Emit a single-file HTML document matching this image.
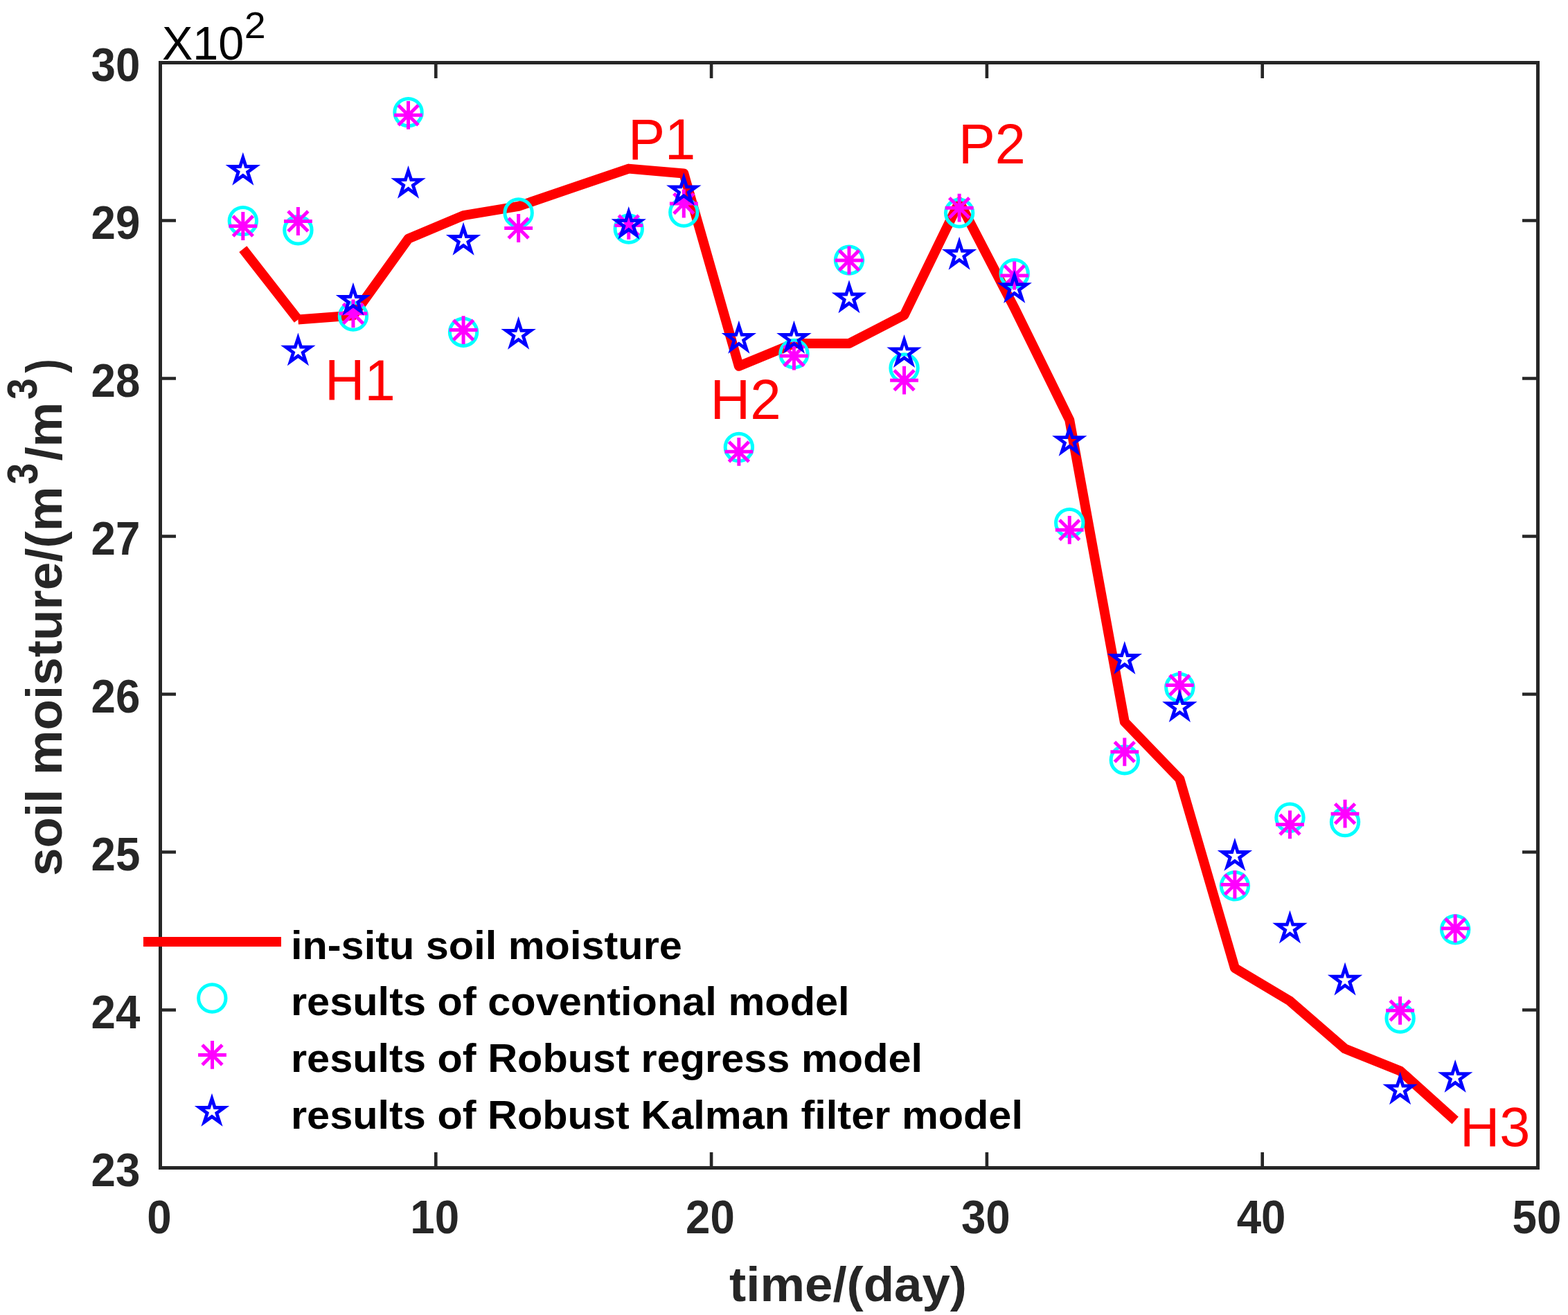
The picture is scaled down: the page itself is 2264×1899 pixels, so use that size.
<!DOCTYPE html>
<html><head><meta charset="utf-8"><title>soil moisture plot</title>
<style>html,body{margin:0;padding:0;background:#fff;}body{width:2264px;height:1899px;overflow:hidden;}svg{display:block;}</style>
</head><body>
<svg width="2264" height="1899" viewBox="0 0 2264 1899">
<rect width="2264" height="1899" fill="#fff"/>
<rect x="231.5" y="90.5" width="1989.0" height="1596.0" fill="none" stroke="#262626" stroke-width="5" stroke-linecap="square"/>
<path fill="none" stroke="#262626" stroke-width="4.6" d="M629.3 1686.5V1664M629.3 90.5V113M1027.1 1686.5V1664M1027.1 90.5V113M1424.9 1686.5V1664M1424.9 90.5V113M1822.7 1686.5V1664M1822.7 90.5V113M231.5 1458.5H254M2220.5 1458.5H2198M231.5 1230.5H254M2220.5 1230.5H2198M231.5 1002.5H254M2220.5 1002.5H2198M231.5 774.5H254M2220.5 774.5H2198M231.5 546.5H254M2220.5 546.5H2198M231.5 318.5H254M2220.5 318.5H2198"/>
<g fill="none" stroke="#f00" stroke-width="14" stroke-linejoin="round">
<line x1="350.84" y1="359.6" x2="430.4" y2="461.5"/>
<polyline points="430.4,461.5 509.96,455.6 589.52,344.8 669.08,311.2 748.64,297.8 828.2,270.6 907.76,243.6 987.32,250.5 1066.88,528.8 1146.44,496 1226,496 1305.56,455 1385.12,291.5 1464.68,444.7 1544.24,606.5 1623.8,1042.5 1703.36,1125 1782.92,1398 1862.48,1445.6 1942.04,1514.6 2021.6,1546.4 2101.16,1618"/>
</g>
<g fill="none" stroke="#0ff" stroke-width="5"><circle cx="350.84" cy="319.1" r="19.7"/><circle cx="430.4" cy="332.3" r="19.7"/><circle cx="509.96" cy="456.6" r="19.7"/><circle cx="589.52" cy="162.2" r="19.7"/><circle cx="669.08" cy="479.7" r="19.7"/><circle cx="748.64" cy="307.4" r="19.7"/><circle cx="907.76" cy="330.5" r="19.7"/><circle cx="987.32" cy="306.6" r="19.7"/><circle cx="1066.88" cy="646" r="19.7"/><circle cx="1146.44" cy="511" r="19.7"/><circle cx="1226" cy="375.6" r="19.7"/><circle cx="1305.56" cy="531.5" r="19.7"/><circle cx="1385.12" cy="307.6" r="19.7"/><circle cx="1464.68" cy="395" r="19.7"/><circle cx="1544.24" cy="755.1" r="19.7"/><circle cx="1623.8" cy="1097.4" r="19.7"/><circle cx="1703.36" cy="992.9" r="19.7"/><circle cx="1782.92" cy="1279.3" r="19.7"/><circle cx="1862.48" cy="1180.8" r="19.7"/><circle cx="1942.04" cy="1187.1" r="19.7"/><circle cx="2021.6" cy="1470.5" r="19.7"/><circle cx="2101.16" cy="1342.3" r="19.7"/></g>
<g fill="none" stroke="#f0f" stroke-width="5"><path d="M350.84 306.1V346.9M330.44 326.5H371.24M336.44 312.1L365.24 340.9M336.44 340.9L365.24 312.1"/><path d="M430.4 299.1V339.9M410 319.5H450.8M416 305.1L444.8 333.9M416 333.9L444.8 305.1"/><path d="M509.96 432.4V473.2M489.56 452.8H530.36M495.56 438.4L524.36 467.2M495.56 467.2L524.36 438.4"/><path d="M589.52 145.9V186.7M569.12 166.3H609.92M575.12 151.9L603.92 180.7M575.12 180.7L603.92 151.9"/><path d="M669.08 456.2V497M648.68 476.6H689.48M654.68 462.2L683.48 491M654.68 491L683.48 462.2"/><path d="M748.64 309.1V349.9M728.24 329.5H769.04M734.24 315.1L763.04 343.9M734.24 343.9L763.04 315.1"/><path d="M907.76 305V345.8M887.36 325.4H928.16M893.36 311L922.16 339.8M893.36 339.8L922.16 311"/><path d="M987.32 273.6V314.4M966.92 294H1007.72M972.92 279.6L1001.72 308.4M972.92 308.4L1001.72 279.6"/><path d="M1066.88 631.9V672.7M1046.48 652.3H1087.28M1052.48 637.9L1081.28 666.7M1052.48 666.7L1081.28 637.9"/><path d="M1146.44 493.6V534.4M1126.04 514H1166.84M1132.04 499.6L1160.84 528.4M1132.04 528.4L1160.84 499.6"/><path d="M1226 355.6V396.4M1205.6 376H1246.4M1211.6 361.6L1240.4 390.4M1211.6 390.4L1240.4 361.6"/><path d="M1305.56 528.8V569.6M1285.16 549.2H1325.96M1291.16 534.8L1319.96 563.6M1291.16 563.6L1319.96 534.8"/><path d="M1385.12 279.8V320.6M1364.72 300.2H1405.52M1370.72 285.8L1399.52 314.6M1370.72 314.6L1399.52 285.8"/><path d="M1464.68 377.6V418.4M1444.28 398H1485.08M1450.28 383.6L1479.08 412.4M1450.28 412.4L1479.08 383.6"/><path d="M1544.24 744.9V785.7M1523.84 765.3H1564.64M1529.84 750.9L1558.64 779.7M1529.84 779.7L1558.64 750.9"/><path d="M1623.8 1065.4V1106.2M1603.4 1085.8H1644.2M1609.4 1071.4L1638.2 1100.2M1609.4 1100.2L1638.2 1071.4"/><path d="M1703.36 969V1009.8M1682.96 989.4H1723.76M1688.96 975L1717.76 1003.8M1688.96 1003.8L1717.76 975"/><path d="M1782.92 1257V1297.8M1762.52 1277.4H1803.32M1768.52 1263L1797.32 1291.8M1768.52 1291.8L1797.32 1263"/><path d="M1862.48 1170.4V1211.2M1842.08 1190.8H1882.88M1848.08 1176.4L1876.88 1205.2M1848.08 1205.2L1876.88 1176.4"/><path d="M1942.04 1154.8V1195.6M1921.64 1175.2H1962.44M1927.64 1160.8L1956.44 1189.6M1927.64 1189.6L1956.44 1160.8"/><path d="M2021.6 1438.9V1479.7M2001.2 1459.3H2042M2007.2 1444.9L2036 1473.7M2007.2 1473.7L2036 1444.9"/><path d="M2101.16 1320.4V1361.2M2080.76 1340.8H2121.56M2086.76 1326.4L2115.56 1355.2M2086.76 1355.2L2115.56 1326.4"/></g>
<g fill="none" stroke="#00f" stroke-width="4.8" stroke-miterlimit="10"><polygon points="350.84,227.55 346.63,240.51 333.01,240.51 344.03,248.51 339.82,261.47 350.84,253.46 361.86,261.47 357.65,248.51 368.67,240.51 355.05,240.51"/><polygon points="430.4,488.15 426.19,501.11 412.57,501.11 423.59,509.11 419.38,522.07 430.4,514.06 441.42,522.07 437.21,509.11 448.23,501.11 434.61,501.11"/><polygon points="509.96,415.55 505.75,428.51 492.13,428.51 503.15,436.51 498.94,449.47 509.96,441.46 520.98,449.47 516.77,436.51 527.79,428.51 514.17,428.51"/><polygon points="589.52,246.65 585.31,259.61 571.69,259.61 582.71,267.61 578.5,280.57 589.52,272.56 600.54,280.57 596.33,267.61 607.35,259.61 593.73,259.61"/><polygon points="669.08,328.55 664.87,341.51 651.25,341.51 662.27,349.51 658.06,362.47 669.08,354.46 680.1,362.47 675.89,349.51 686.91,341.51 673.29,341.51"/><polygon points="748.64,464.45 744.43,477.41 730.81,477.41 741.83,485.41 737.62,498.37 748.64,490.36 759.66,498.37 755.45,485.41 766.47,477.41 752.85,477.41"/><polygon points="907.76,305.65 903.55,318.61 889.93,318.61 900.95,326.61 896.74,339.57 907.76,331.56 918.78,339.57 914.57,326.61 925.59,318.61 911.97,318.61"/><polygon points="987.32,256.85 983.11,269.81 969.49,269.81 980.51,277.81 976.3,290.77 987.32,282.76 998.34,290.77 994.13,277.81 1005.15,269.81 991.53,269.81"/><polygon points="1066.88,470.45 1062.67,483.41 1049.05,483.41 1060.07,491.41 1055.86,504.37 1066.88,496.36 1077.9,504.37 1073.69,491.41 1084.71,483.41 1071.09,483.41"/><polygon points="1146.44,470.45 1142.23,483.41 1128.61,483.41 1139.63,491.41 1135.42,504.37 1146.44,496.36 1157.46,504.37 1153.25,491.41 1164.27,483.41 1150.65,483.41"/><polygon points="1226,412.05 1221.79,425.01 1208.17,425.01 1219.19,433.01 1214.98,445.97 1226,437.96 1237.02,445.97 1232.81,433.01 1243.83,425.01 1230.21,425.01"/><polygon points="1305.56,490.85 1301.35,503.81 1287.73,503.81 1298.75,511.81 1294.54,524.77 1305.56,516.76 1316.58,524.77 1312.37,511.81 1323.39,503.81 1309.77,503.81"/><polygon points="1385.12,349.45 1380.91,362.41 1367.29,362.41 1378.31,370.41 1374.1,383.37 1385.12,375.36 1396.14,383.37 1391.93,370.41 1402.95,362.41 1389.33,362.41"/><polygon points="1464.68,397.65 1460.47,410.61 1446.85,410.61 1457.87,418.61 1453.66,431.57 1464.68,423.56 1475.7,431.57 1471.49,418.61 1482.51,410.61 1468.89,410.61"/><polygon points="1544.24,618.65 1540.03,631.61 1526.41,631.61 1537.43,639.61 1533.22,652.57 1544.24,644.56 1555.26,652.57 1551.05,639.61 1562.07,631.61 1548.45,631.61"/><polygon points="1623.8,933.55 1619.59,946.51 1605.97,946.51 1616.99,954.51 1612.78,967.47 1623.8,959.46 1634.82,967.47 1630.61,954.51 1641.63,946.51 1628.01,946.51"/><polygon points="1703.36,1002.75 1699.15,1015.71 1685.53,1015.71 1696.55,1023.71 1692.34,1036.67 1703.36,1028.66 1714.38,1036.67 1710.17,1023.71 1721.19,1015.71 1707.57,1015.71"/><polygon points="1782.92,1217.55 1778.71,1230.51 1765.09,1230.51 1776.11,1238.51 1771.9,1251.47 1782.92,1243.46 1793.94,1251.47 1789.73,1238.51 1800.75,1230.51 1787.13,1230.51"/><polygon points="1862.48,1322.25 1858.27,1335.21 1844.65,1335.21 1855.67,1343.21 1851.46,1356.17 1862.48,1348.16 1873.5,1356.17 1869.29,1343.21 1880.31,1335.21 1866.69,1335.21"/><polygon points="1942.04,1397.25 1937.83,1410.21 1924.21,1410.21 1935.23,1418.21 1931.02,1431.17 1942.04,1423.16 1953.06,1431.17 1948.85,1418.21 1959.87,1410.21 1946.25,1410.21"/><polygon points="2021.6,1555.15 2017.39,1568.11 2003.77,1568.11 2014.79,1576.11 2010.58,1589.07 2021.6,1581.06 2032.62,1589.07 2028.41,1576.11 2039.43,1568.11 2025.81,1568.11"/><polygon points="2101.16,1537.65 2096.95,1550.61 2083.33,1550.61 2094.35,1558.61 2090.14,1571.57 2101.16,1563.56 2112.18,1571.57 2107.97,1558.61 2118.99,1550.61 2105.37,1550.61"/></g>
<g font-family="'Liberation Sans', Arial, Helvetica, sans-serif" font-weight="bold" font-size="66" fill="#262626">
<text transform="translate(202.3 1713.1) scale(0.9648 1.0391)" text-anchor="end">23</text>
<text transform="translate(202.3 1485.1) scale(0.9648 1.0391)" text-anchor="end">24</text>
<text transform="translate(202.3 1257.1) scale(0.9648 1.0391)" text-anchor="end">25</text>
<text transform="translate(202.3 1029.1) scale(0.9648 1.0391)" text-anchor="end">26</text>
<text transform="translate(202.3 801.1) scale(0.9648 1.0391)" text-anchor="end">27</text>
<text transform="translate(202.3 573.1) scale(0.9648 1.0391)" text-anchor="end">28</text>
<text transform="translate(202.3 345.1) scale(0.9648 1.0391)" text-anchor="end">29</text>
<text transform="translate(202.3 117.1) scale(0.9648 1.0391)" text-anchor="end">30</text>
<text transform="translate(229.9 1781.3) scale(0.9648 1.0391)" text-anchor="middle">0</text>
<text transform="translate(627.7 1781.3) scale(0.9648 1.0391)" text-anchor="middle">10</text>
<text transform="translate(1025.5 1781.3) scale(0.9648 1.0391)" text-anchor="middle">20</text>
<text transform="translate(1423.3 1781.3) scale(0.9648 1.0391)" text-anchor="middle">30</text>
<text transform="translate(1821.1 1781.3) scale(0.9648 1.0391)" text-anchor="middle">40</text>
<text transform="translate(2218.9 1781.3) scale(0.9648 1.0391)" text-anchor="middle">50</text>
</g>
<g font-family="'Liberation Sans', Arial, Helvetica, sans-serif">
<text transform="translate(233.88 86) scale(1.0088 1.0239)" font-size="66" font-weight="normal" fill="#000">X10</text>
<text transform="translate(352.65 54.9) scale(1.0500 1.0270)" font-size="53" font-weight="normal" fill="#000">2</text>
<text transform="translate(469.04 577.9) scale(0.9950 1.0345)" font-size="80" font-weight="normal" fill="#f00">H1</text>
<text transform="translate(907.03 229.9) scale(0.9950 1.0364)" font-size="80" font-weight="normal" fill="#f00">P1</text>
<text transform="translate(1025.51 605.3) scale(0.9989 1.0232)" font-size="80" font-weight="normal" fill="#f00">H2</text>
<text transform="translate(1384.07 235.8) scale(0.9897 1.0161)" font-size="80" font-weight="normal" fill="#f00">P2</text>
<text transform="translate(2108.06 1654.9) scale(0.9913 1.0018)" font-size="80" font-weight="normal" fill="#f00">H3</text>
<text transform="translate(1053.09 1879) scale(1.0087 0.9830)" font-size="72" font-weight="bold" fill="#262626">time/(day)</text>
<text transform="translate(89.05 1264.99) rotate(-90) scale(0.9977 0.9991)" font-size="73" font-weight="bold" fill="#262626">soil moisture/(m</text>
<text transform="translate(54.1 699.61) rotate(-90) scale(0.9571 1.0800)" font-size="58" font-weight="bold" fill="#262626">3</text>
<text transform="translate(89.1 665.6) rotate(-90) scale(0.9963 1.0000)" font-size="73" font-weight="bold" fill="#262626">/m</text>
<text transform="translate(53.4 576.91) rotate(-90) scale(0.9536 1.0600)" font-size="58" font-weight="bold" fill="#262626">3</text>
<text transform="translate(88.94 538.6) rotate(-90) scale(0.8381 0.9971)" font-size="73" font-weight="bold" fill="#262626">)</text>
</g>
<rect x="207" y="1353" width="199" height="14" fill="#f00"/>
<g fill="none" stroke="#0ff" stroke-width="5"><circle cx="306.3" cy="1441.5" r="19.7"/></g>
<g fill="none" stroke="#f0f" stroke-width="5"><path d="M306.5 1503V1543.8M286.1 1523.4H326.9M292.1 1509L320.9 1537.8M292.1 1537.8L320.9 1509"/></g>
<g fill="none" stroke="#00f" stroke-width="4.8" stroke-miterlimit="10"><polygon points="306,1586.55 301.79,1599.51 288.17,1599.51 299.19,1607.51 294.98,1620.47 306,1612.46 317.02,1620.47 312.81,1607.51 323.83,1599.51 310.21,1599.51"/></g>
<g font-family="'Liberation Sans', Arial, Helvetica, sans-serif">
<text transform="translate(419.95 1384.9) scale(1.0254 0.9960)" font-size="58" font-weight="bold" fill="#000">in-situ soil moisture</text>
<text transform="translate(419.95 1465.9) scale(1.0260 0.9952)" font-size="58" font-weight="bold" fill="#000">results of coventional model</text>
<text transform="translate(419.95 1548) scale(1.0256 0.9929)" font-size="58" font-weight="bold" fill="#000">results of Robust regress model</text>
<text transform="translate(419.95 1630) scale(1.0253 1.0000)" font-size="58" font-weight="bold" fill="#000">results of Robust Kalman filter model</text>
</g>
</svg>
</body></html>
